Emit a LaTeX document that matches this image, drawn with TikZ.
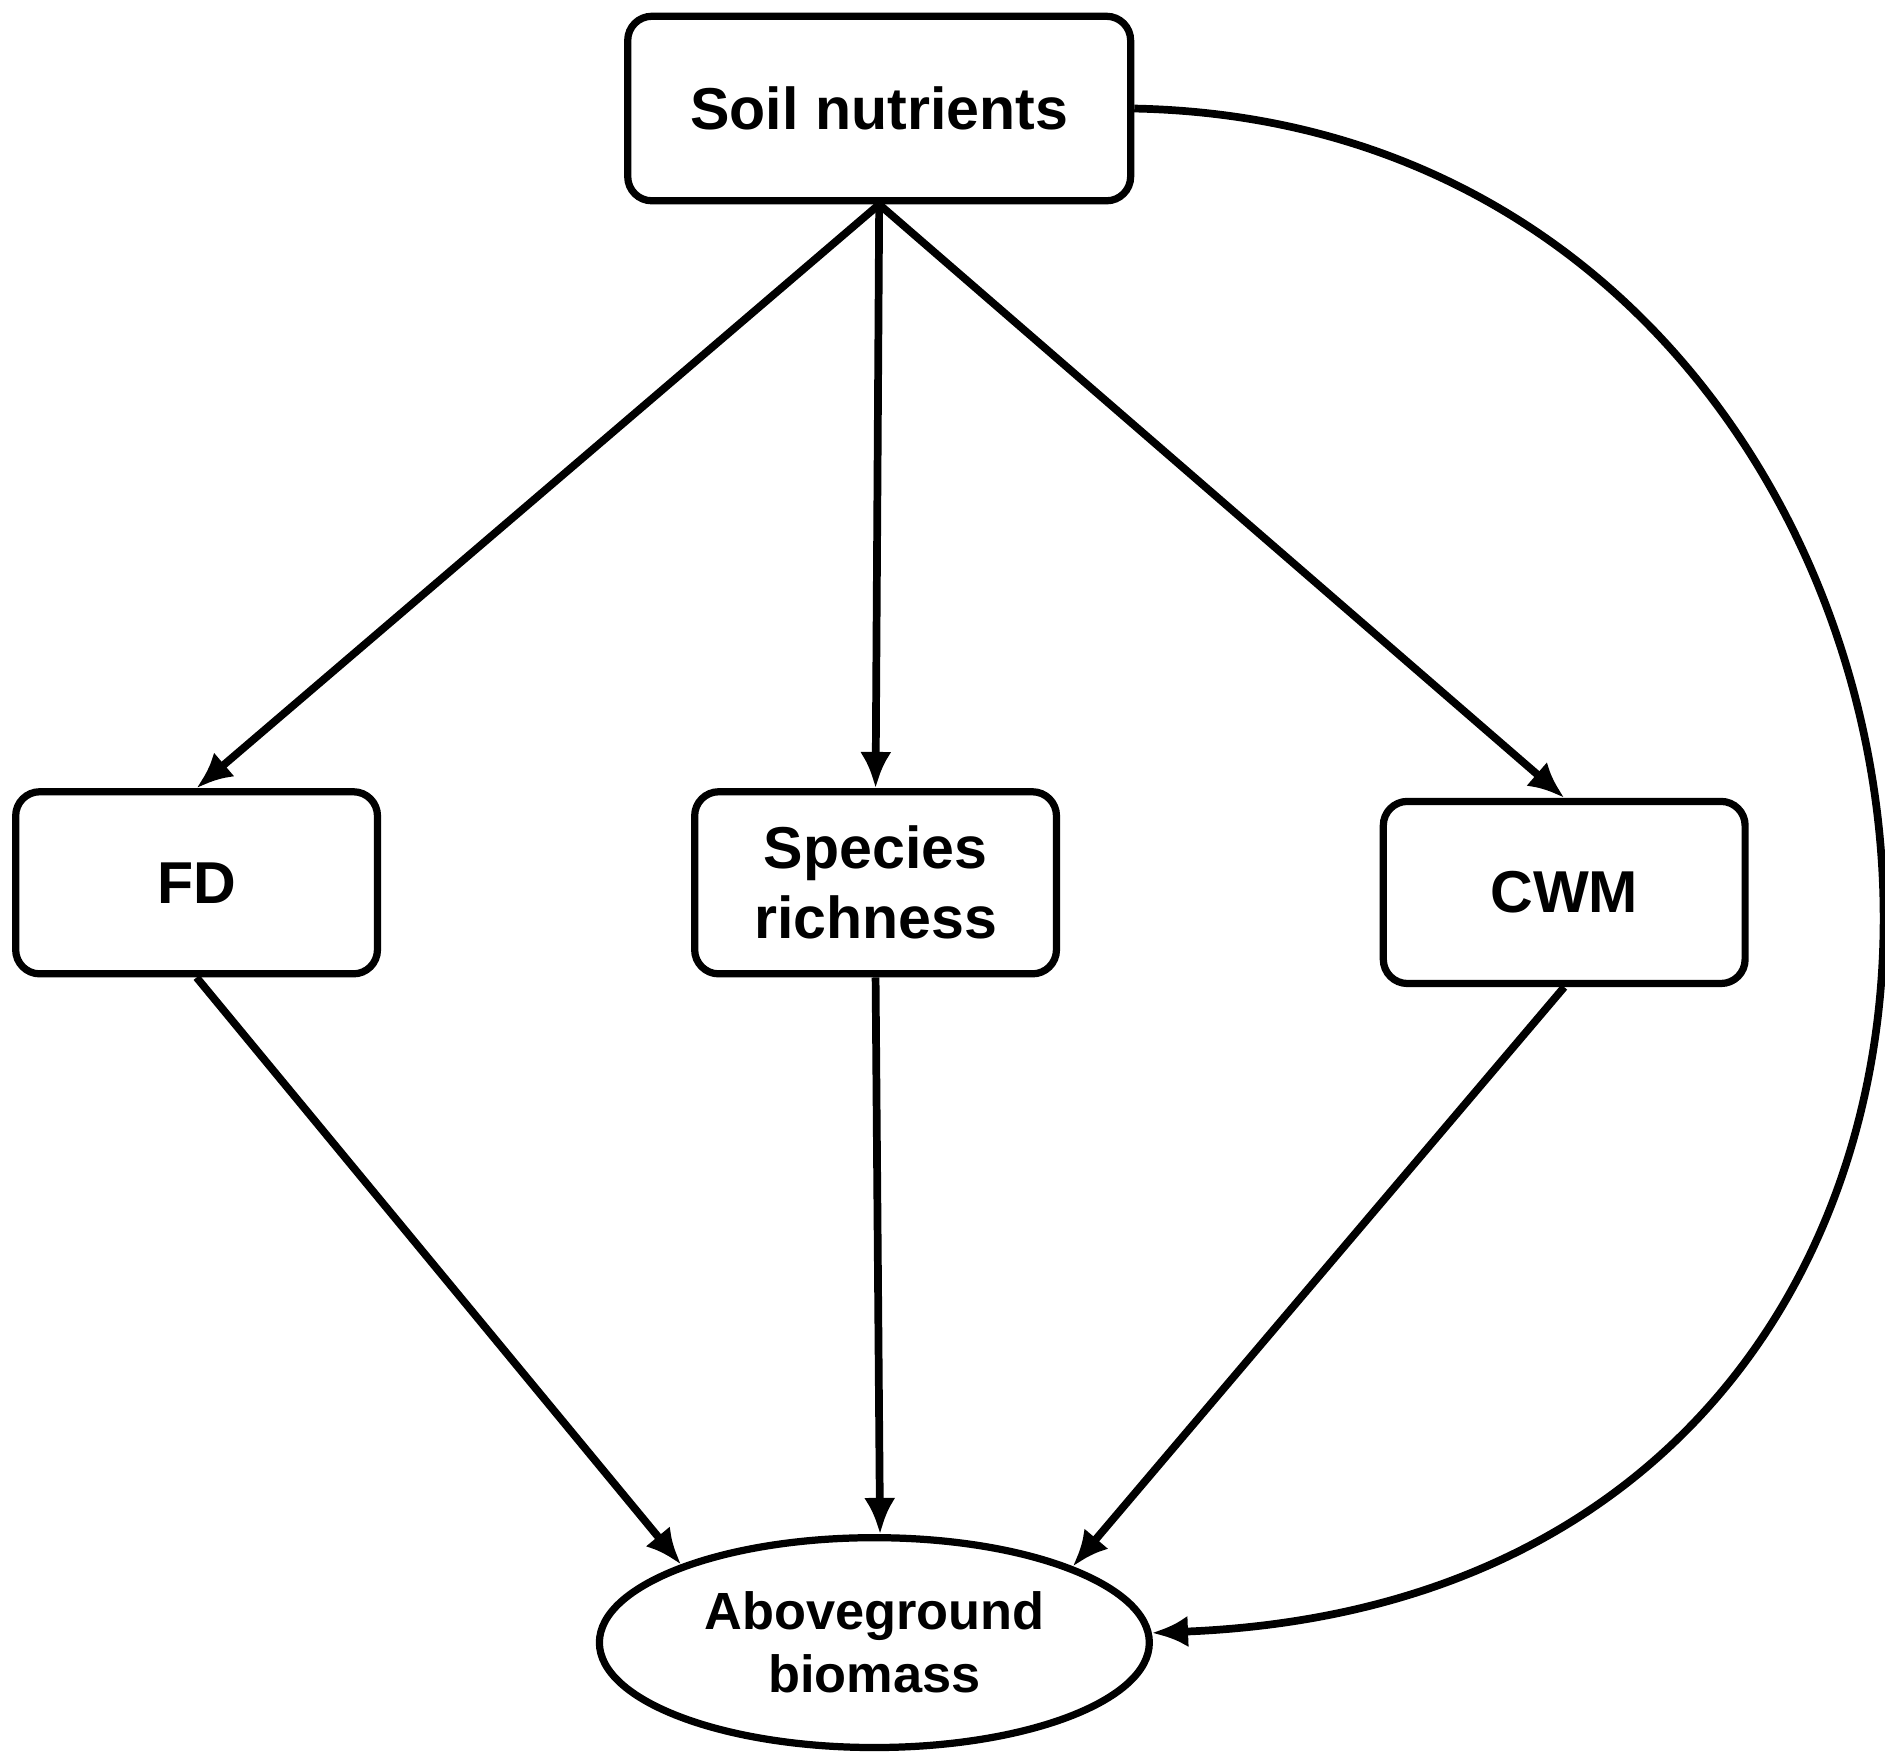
\documentclass[tikz,border=0pt]{standalone}
\usepackage{fontspec}
\setmainfont{Liberation Sans}
\usetikzlibrary{shapes.geometric,arrows.meta}
\begin{document}
\begin{tikzpicture}[x=0.5pt,y=-0.5pt,
 box/.style={draw,line width=3pt,rounded corners=10pt,minimum width=150pt,minimum height=75.5pt,align=center,font=\bfseries\fontsize{24.5}{29}\selectfont},
 arr/.style={line width=3.2pt,-{Latex[length=15pt,width=13pt]}}]
\useasboundingbox (0,0) rectangle (1563,1460);
\node[box,minimum width=208.5pt,minimum height=76.5pt] (soil) at (729,90) {Soil nutrients};
\node[box] (fd) at (163,732) {FD};
\node[box] (sr) at (726,732) {Species\\richness};
\node[box] (cwm) at (1297,740) {CWM};
\node[draw,ellipse,line width=3pt,minimum width=228pt,minimum height=87pt,inner sep=0pt,align=center,font=\bfseries\fontsize{21.7}{26}\selectfont] (ab) at (725,1362) {Aboveground\\biomass};
\draw[arr] (soil.south) -- (fd.north);
\draw[arr] (soil.south) -- (sr.north);
\draw[arr] (soil.south) -- (cwm.north);
\draw[arr] (fd.south) -- (ab.158);
\draw[arr] (sr.south) -- (ab.87);
\draw[arr] (cwm.south) -- (ab.21);
\draw[arr] (soil.east) .. controls (1700,105) and (1820,1320) .. (ab.2);
\end{tikzpicture}
\end{document}
